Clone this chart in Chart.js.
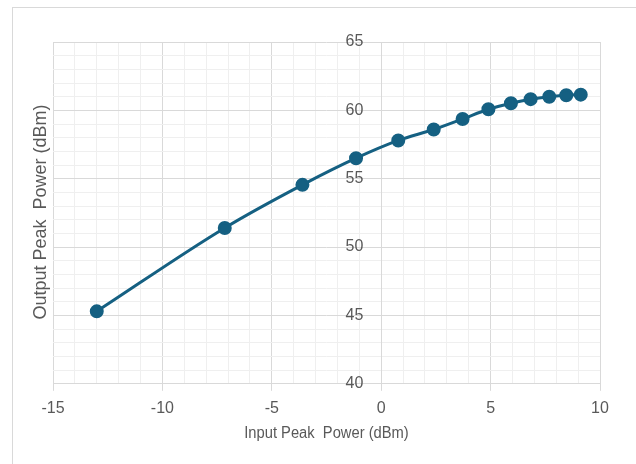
<!DOCTYPE html>
<html>
<head>
<meta charset="utf-8">
<script src="https://cdn.jsdelivr.net/npm/chart.js@4"></script>
<style>
  html, body { margin: 0; padding: 0; background: #fff; }
  #wrap { position: relative; width: 636px; height: 464px; }
</style>
</head>
<body>
<div id="wrap"><canvas id="grafico" width="636" height="464"></canvas></div>
<script>
// dados
const entradaDbm = [-13.0, -7.15, -3.6, -1.15, 0.78, 2.4, 3.72, 4.9, 5.93, 6.83, 7.68, 8.46, 9.12];
const saidaDbm   = [45.3, 51.4, 54.55, 56.5, 57.8, 58.6, 59.37, 60.08, 60.52, 60.82, 61.0, 61.1, 61.15];
const ticksX = [-15, -10, -5, 0, 5, 10];
const ticksY = [40, 45, 50, 55, 60, 65];

const tituloX = 'Input Peak  Power (dBm)';
const tituloY = 'Output Peak  Power (dBm)';

const corSerie = '#156082';
const corTexto = '#595959';
const fonteTicks = { family: 'Liberation Sans', size: 16 };

const pontos = entradaDbm.map((x, i) => ({ x: x, y: saidaDbm[i] }));

// moldura externa + títulos desenhados à mão (posição do Excel)
const pluginMoldura = {
    id: 'moldura',
    beforeDraw(chart) {
        const ctx = chart.ctx;
        ctx.save();
        ctx.strokeStyle = '#d9d9d9';
        ctx.lineWidth = 1;
        ctx.strokeRect(12.5, 7.5, 700, 600);
        ctx.restore();
    },
    afterDraw(chart) {
        const ctx = chart.ctx;
        const area = chart.chartArea;
        ctx.save();
        ctx.fillStyle = corTexto;
        ctx.textAlign = 'center';
        ctx.textBaseline = 'middle';
        ctx.font = '16px "Liberation Sans"';
        ctx.translate((area.left + area.right) / 2, 434);
        ctx.scale(0.92, 1); // fonte um pouco estreita, como no original
        ctx.fillText(tituloX, 0, 0);
        ctx.restore();

        ctx.save();
        ctx.fillStyle = corTexto;
        ctx.textAlign = 'center';
        ctx.textBaseline = 'middle';
        ctx.translate(41, 212);
        ctx.rotate(-Math.PI / 2);
        ctx.font = '18px "Liberation Sans"';
        ctx.fillText(tituloY, 0, 0);
        ctx.restore();
    }
};

const corGrade = (ctx) => (ctx.tick && ctx.tick.value % 5 === 0) ? '#d9d9d9' : '#efefef';
const corMarca = (ctx) => (ctx.tick && ctx.tick.value % 5 === 0) ? '#d9d9d9' : 'rgba(0,0,0,0)';

new Chart(document.getElementById('grafico'), {
    type: 'scatter',
    data: {
        datasets: [{
            data: pontos,
            showLine: true,
            borderColor: corSerie,
            backgroundColor: corSerie,
            borderWidth: 3,
            tension: 0.4,
            cubicInterpolationMode: 'monotone',
            pointRadius: 5.5,
            pointHoverRadius: 5.5,
            pointBackgroundColor: corSerie,
            pointBorderColor: corSerie
        }]
    },
    options: {
        responsive: false,
        animation: false,
        events: [],
        layout: { padding: { left: 53, right: 36, top: 42, bottom: 38 } },
        plugins: {
            legend: { display: false },
            tooltip: { enabled: false }
        },
        scales: {
            x: {
                type: 'linear',
                min: ticksX[0],
                max: ticksX[ticksX.length - 1],
                border: { color: '#d9d9d9', width: 1 },
                grid: { color: corGrade, tickColor: corMarca, tickLength: 7 },
                ticks: {
                    stepSize: 1,
                    autoSkip: false,
                    maxRotation: 0,
                    color: corTexto,
                    font: fonteTicks,
                    padding: 8,
                    callback: (v) => ticksX.includes(v) ? String(v) : ''
                }
            },
            y: {
                type: 'linear',
                position: { x: 0 },
                min: ticksY[0],
                max: ticksY[ticksY.length - 1],
                border: { color: '#d9d9d9', width: 1 },
                grid: { color: corGrade, tickColor: corMarca, tickLength: 8 },
                ticks: {
                    stepSize: 1,
                    autoSkip: false,
                    color: corTexto,
                    font: fonteTicks,
                    // eixo cruzando em x=0: o rótulo fica colado na linha, então empurra com espaços
                    callback: (v) => ticksY.includes(v) ? String(v) + '\u2007\u2007' : ''
                }
            }
        }
    },
    plugins: [pluginMoldura]
});
</script>
</body>
</html>
